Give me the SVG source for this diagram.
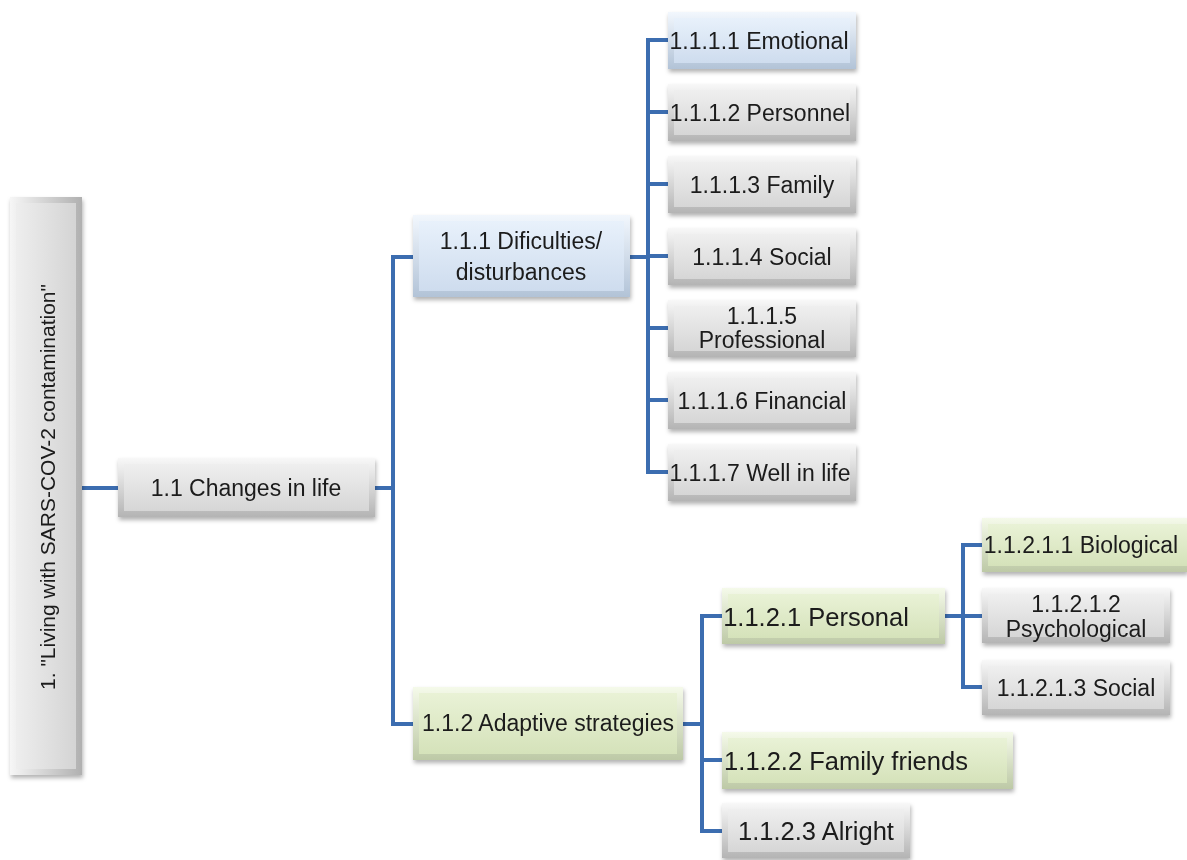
<svg xmlns="http://www.w3.org/2000/svg" width="1187" height="860" viewBox="0 0 1187 860">
<style>
text{font-family:"Liberation Sans",Arial,sans-serif;font-size:23px;fill:#1a1a1a;text-anchor:middle;dominant-baseline:central}
.big{font-size:25.5px}
.conn{fill:none;stroke:#3c6db0;stroke-width:4;stroke-linecap:square;stroke-linejoin:miter}
.og{fill:url(#gO)}.fg{fill:url(#gF)}
.ob{fill:url(#bO)}.fb{fill:url(#bF)}
.on{fill:url(#nO)}.fn{fill:url(#nF)}
.box{filter:url(#sh)}
</style>
<defs>
<filter id="sh" x="-10%" y="-20%" width="120%" height="150%"><feDropShadow dx="1" dy="3" stdDeviation="2" flood-color="#000" flood-opacity="0.3"/></filter>
<linearGradient id="gO" x1="0" y1="0" x2="0" y2="1"><stop offset="0" stop-color="#f8f8f8"/><stop offset="1" stop-color="#b4b4b4"/></linearGradient>
<linearGradient id="gF" x1="0" y1="0" x2="0" y2="1"><stop offset="0" stop-color="#efefef"/><stop offset="1" stop-color="#d6d6d6"/></linearGradient>
<linearGradient id="bO" x1="0" y1="0" x2="0" y2="1"><stop offset="0" stop-color="#f2f7fd"/><stop offset="1" stop-color="#b2c3d7"/></linearGradient>
<linearGradient id="bF" x1="0" y1="0" x2="0" y2="1"><stop offset="0" stop-color="#e8f1fb"/><stop offset="1" stop-color="#cedcee"/></linearGradient>
<linearGradient id="nO" x1="0" y1="0" x2="0" y2="1"><stop offset="0" stop-color="#f5faea"/><stop offset="1" stop-color="#bdc9a6"/></linearGradient>
<linearGradient id="nF" x1="0" y1="0" x2="0" y2="1"><stop offset="0" stop-color="#e9f2d6"/><stop offset="1" stop-color="#d5e2ba"/></linearGradient>
<linearGradient id="gOh" x1="0" y1="0" x2="1" y2="0"><stop offset="0" stop-color="#f6f6f6"/><stop offset="1" stop-color="#b0b0b0"/></linearGradient>
<linearGradient id="gFh" x1="0" y1="0" x2="1" y2="0"><stop offset="0" stop-color="#eeeeee"/><stop offset="1" stop-color="#d4d4d4"/></linearGradient>
</defs>
<rect width="1187" height="860" fill="#ffffff"/>

<g id="connectors">
<path class="conn" d="M82 488H118"/>
<path class="conn" d="M375 488H393M393 257V724M393 257H413M393 724H413"/>
<path class="conn" d="M630 257H648M648 40V472M648 40H668M648 112H668M648 184H668M648 256H668M648 328H668M648 400H668M648 472H668"/>
<path class="conn" d="M683 724H702M702 616V831M702 616H722M702 760H722M702 831H722"/>
<path class="conn" d="M945 616H963M963 545V687M963 545H982M963 616H982M963 687H982"/>
</g>

<g id="n1" class="box"><rect x="10" y="197" width="72" height="578" fill="url(#gOh)"/><rect x="16" y="203" width="60" height="566" fill="url(#gFh)"/>
<text x="47" y="487" transform="rotate(-90 47 487)" style="font-size:21px">1. "Living with SARS-COV-2 contamination"</text></g>

<g id="n1_1" class="box"><rect class="og" x="118" y="458" width="257" height="59"/><rect class="fg" x="124" y="464" width="245" height="47"/><text x="246" y="488">1.1 Changes in life</text></g>

<g id="n1_1_1" class="box"><rect class="ob" x="413" y="215" width="217" height="82"/><rect class="fb" x="419" y="221" width="205" height="70"/><text x="521" y="241">1.1.1 Dificulties/</text><text x="521" y="272">disturbances</text></g>

<g id="n1_1_2" class="box"><rect class="on" x="413" y="687" width="270" height="73"/><rect class="fn" x="419" y="693" width="258" height="61"/><text x="548" y="723">1.1.2 Adaptive strategies</text></g>

<g id="n1_1_1_1" class="box"><rect class="ob" x="668" y="12" width="188" height="57"/><rect class="fb" x="674" y="18" width="176" height="45"/><text x="759" y="41">1.1.1.1 Emotional</text></g>
<g id="n1_1_1_2" class="box"><rect class="og" x="668" y="84" width="188" height="57"/><rect class="fg" x="674" y="90" width="176" height="45"/><text x="760" y="113">1.1.1.2 Personnel</text></g>
<g id="n1_1_1_3" class="box"><rect class="og" x="668" y="156" width="188" height="57"/><rect class="fg" x="674" y="162" width="176" height="45"/><text x="762" y="185">1.1.1.3 Family</text></g>
<g id="n1_1_1_4" class="box"><rect class="og" x="668" y="228" width="188" height="57"/><rect class="fg" x="674" y="234" width="176" height="45"/><text x="762" y="257">1.1.1.4 Social</text></g>
<g id="n1_1_1_5" class="box"><rect class="og" x="668" y="300" width="188" height="57"/><rect class="fg" x="674" y="306" width="176" height="45"/><text x="762" y="316">1.1.1.5</text><text x="762" y="340">Professional</text></g>
<g id="n1_1_1_6" class="box"><rect class="og" x="668" y="372" width="188" height="57"/><rect class="fg" x="674" y="378" width="176" height="45"/><text x="762" y="401">1.1.1.6 Financial</text></g>
<g id="n1_1_1_7" class="box"><rect class="og" x="668" y="444" width="188" height="57"/><rect class="fg" x="674" y="450" width="176" height="45"/><text x="760" y="473">1.1.1.7 Well in life</text></g>

<g id="n1_1_2_1" class="box"><rect class="on" x="722" y="588" width="223" height="56"/><rect class="fn" x="728" y="594" width="211" height="44"/><text class="big" x="816" y="617">1.1.2.1 Personal</text></g>
<g id="n1_1_2_2" class="box"><rect class="on" x="722" y="732" width="291" height="57"/><rect class="fn" x="728" y="738" width="279" height="45"/><text class="big" x="846" y="761">1.1.2.2 Family friends</text></g>
<g id="n1_1_2_3" class="box"><rect class="og" x="722" y="803" width="188" height="55"/><rect class="fg" x="728" y="809" width="176" height="43"/><text class="big" x="816" y="831">1.1.2.3 Alright</text></g>

<g id="n1_1_2_1_1" class="box"><rect class="on" x="982" y="518" width="205" height="54"/><rect class="fn" x="988" y="524" width="199" height="42"/><text x="1081" y="545">1.1.2.1.1 Biological</text></g>
<g id="n1_1_2_1_2" class="box"><rect class="og" x="982" y="588" width="188" height="55"/><rect class="fg" x="988" y="594" width="176" height="43"/><text x="1076" y="604">1.1.2.1.2</text><text x="1076" y="629">Psychological</text></g>
<g id="n1_1_2_1_3" class="box"><rect class="og" x="982" y="660" width="188" height="55"/><rect class="fg" x="988" y="666" width="176" height="43"/><text x="1076" y="688">1.1.2.1.3 Social</text></g>
</svg>
